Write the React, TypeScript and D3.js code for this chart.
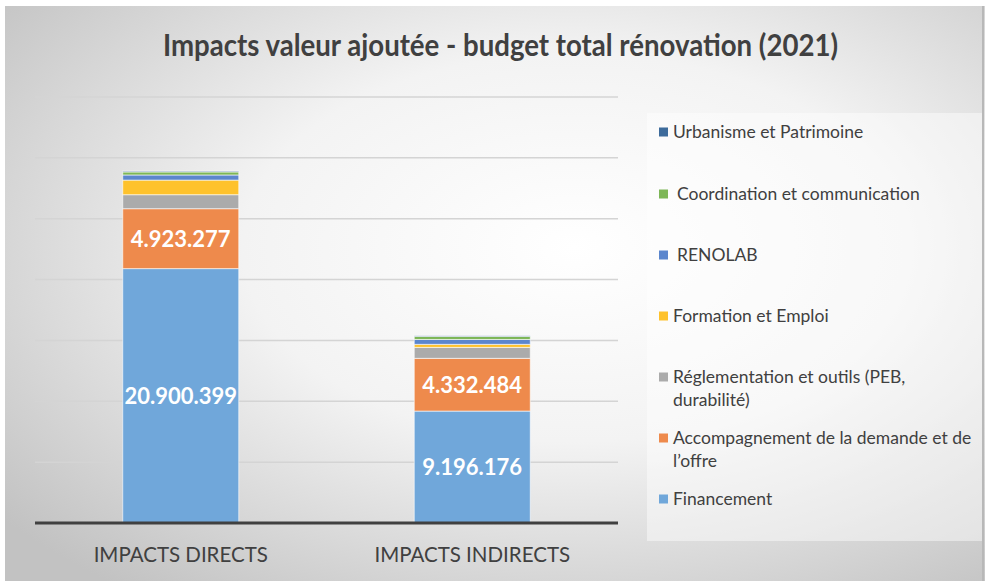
import React from "react";
import * as d3 from "d3";

const categories = ["IMPACTS DIRECTS", "IMPACTS INDIRECTS"];
const seriesNames = [
  "Financement",
  "Accompagnement de la demande et de l’offre",
  "Réglementation et outils (PEB, durabilité)",
  "Formation et Emploi",
  "RENOLAB",
  "Coordination et communication",
  "Urbanisme et Patrimoine",
];
const financement = [20900399, 9196176];
const accompagnement = [4923277, 4332484];
const reglementation = [1150000, 900000];
const formation = [1200000, 250000];
const renolab = [420000, 400000];
const coordination = [250000, 250000];
const urbanisme = [60000, 50000];
const seriesColors = ["#70A7DA", "#EE8A4C", "#ABABAB", "#FEC22C", "#5B86CD", "#7DB657", "#3D6B9B"];
const labeledSeries = [0, 1];
const yTicks = [0, 5000000, 10000000, 15000000, 20000000, 25000000, 30000000, 35000000];
const titleText = "Impacts valeur ajoutée - budget total rénovation (2021)";

// legend entries: display lines (top to bottom order), with series index
const legendEntries = [
  { idx: 6, lines: ["Urbanisme et Patrimoine"], lead: 0 },
  { idx: 5, lines: ["Coordination et communication"], lead: 4 },
  { idx: 4, lines: ["RENOLAB"], lead: 4 },
  { idx: 3, lines: ["Formation et Emploi"], lead: 0 },
  { idx: 2, lines: ["Réglementation et outils (PEB,", "durabilité)"], lead: 0 },
  { idx: 1, lines: ["Accompagnement de la demande et de", "l’offre"], lead: 0 },
  { idx: 0, lines: ["Financement"], lead: 0 },
];
const legendY = [132, 194, 255, 316, 377, 438, 499];

if (typeof document !== "undefined") document.body.style.margin = "0";

const fmt = d3.formatLocale({ decimal: ",", thousands: ".", grouping: [3], currency: ["", "€"] }).format(",d");

export default function App() {
  const W = 985, H = 581;
  const values = [financement, accompagnement, reglementation, formation, renolab, coordination, urbanisme];
  const x = d3.scaleBand<string>().domain(categories).range([35, 618]).paddingInner(0.602).paddingOuter(0.301);
  const y = d3.scaleLinear().domain([0, 35000000]).range([523, 97]);
  const rows = categories.map((c, i) => {
    const r: any = { cat: c };
    values.forEach((v, s) => (r["s" + s] = v[i]));
    return r;
  });
  const stack = d3.stack<any>().keys(values.map((_, s) => "s" + s))(rows);
  const font = "Lato, 'Open Sans', sans-serif";
  return (
    <svg width={W} height={H} style={{ display: "block" }} fontFamily={font}>
      <defs>
        <radialGradient id="bg" cx="0.58" cy="0.42" r="0.75" gradientUnits="objectBoundingBox">
          <stop offset="0" stopColor="#ffffff" />
          <stop offset="0.45" stopColor="#f3f3f3" />
          <stop offset="1" stopColor="#c2c2c2" />
        </radialGradient>
      </defs>
      <rect x={0} y={0} width={W} height={H} fill="#ffffff" />
      <rect x={5} y={6} width={W - 5} height={H - 6} fill="url(#bg)" />
      <line x1={983} x2={983} y1={6} y2={H} stroke="#b8b8b8" strokeWidth={2} />
      <text x={500.5} y={56} textAnchor="middle" fontSize={30} fontWeight="bold" fill="#404040"
        textLength={675} lengthAdjust="spacingAndGlyphs">
        {titleText}
      </text>
      {yTicks.slice(1).map((t) => (
        <line key={t} x1={35} x2={618} y1={y(t)} y2={y(t)} stroke="#d4d4d4" strokeWidth={1.5} />
      ))}
      {stack.map((layer, s) =>
        layer.map((d, i) => (
          <rect
            key={s + "-" + i}
            x={x(categories[i])!}
            width={x.bandwidth()}
            y={y(d[1])}
            height={Math.max(0, y(d[0]) - y(d[1]))}
            fill={seriesColors[s]}
            stroke="#ffffff"
            strokeOpacity={0.6}
            strokeWidth={1}
          />
        ))
      )}
      {labeledSeries.map((s) =>
        stack[s].map((d, i) => (
          <text
            key={"l" + s + i}
            x={x(categories[i])! + x.bandwidth() / 2}
            y={(y(d[0]) + y(d[1])) / 2 + 8}
            textAnchor="middle"
            fontSize={22}
            fontWeight="bold"
            fill="#ffffff"
          >
            {fmt(values[s][i])}
          </text>
        ))
      )}
      <line x1={35} x2={618} y1={y(0)} y2={y(0)} stroke="#404040" strokeWidth={3} />
      {categories.map((c) => (
        <text key={c} x={x(c)! + x.bandwidth() / 2} y={562} textAnchor="middle" fontSize={20.5} fill="#404040">
          {c}
        </text>
      ))}
      <rect x={647} y={113} width={335} height={428} fill="#ffffff" fillOpacity={0.45} />
      {legendEntries.map((e, k) => (
        <g key={e.idx}>
          <rect x={659} y={legendY[k] - 4.5} width={9} height={9} fill={seriesColors[e.idx]} />
          {e.lines.map((ln, j) => (
            <text key={j} x={673 + e.lead} y={legendY[k] + 6 + j * 23} fontSize={17.5} fill="#404040">
              {ln}
            </text>
          ))}
        </g>
      ))}
    </svg>
  );
}
